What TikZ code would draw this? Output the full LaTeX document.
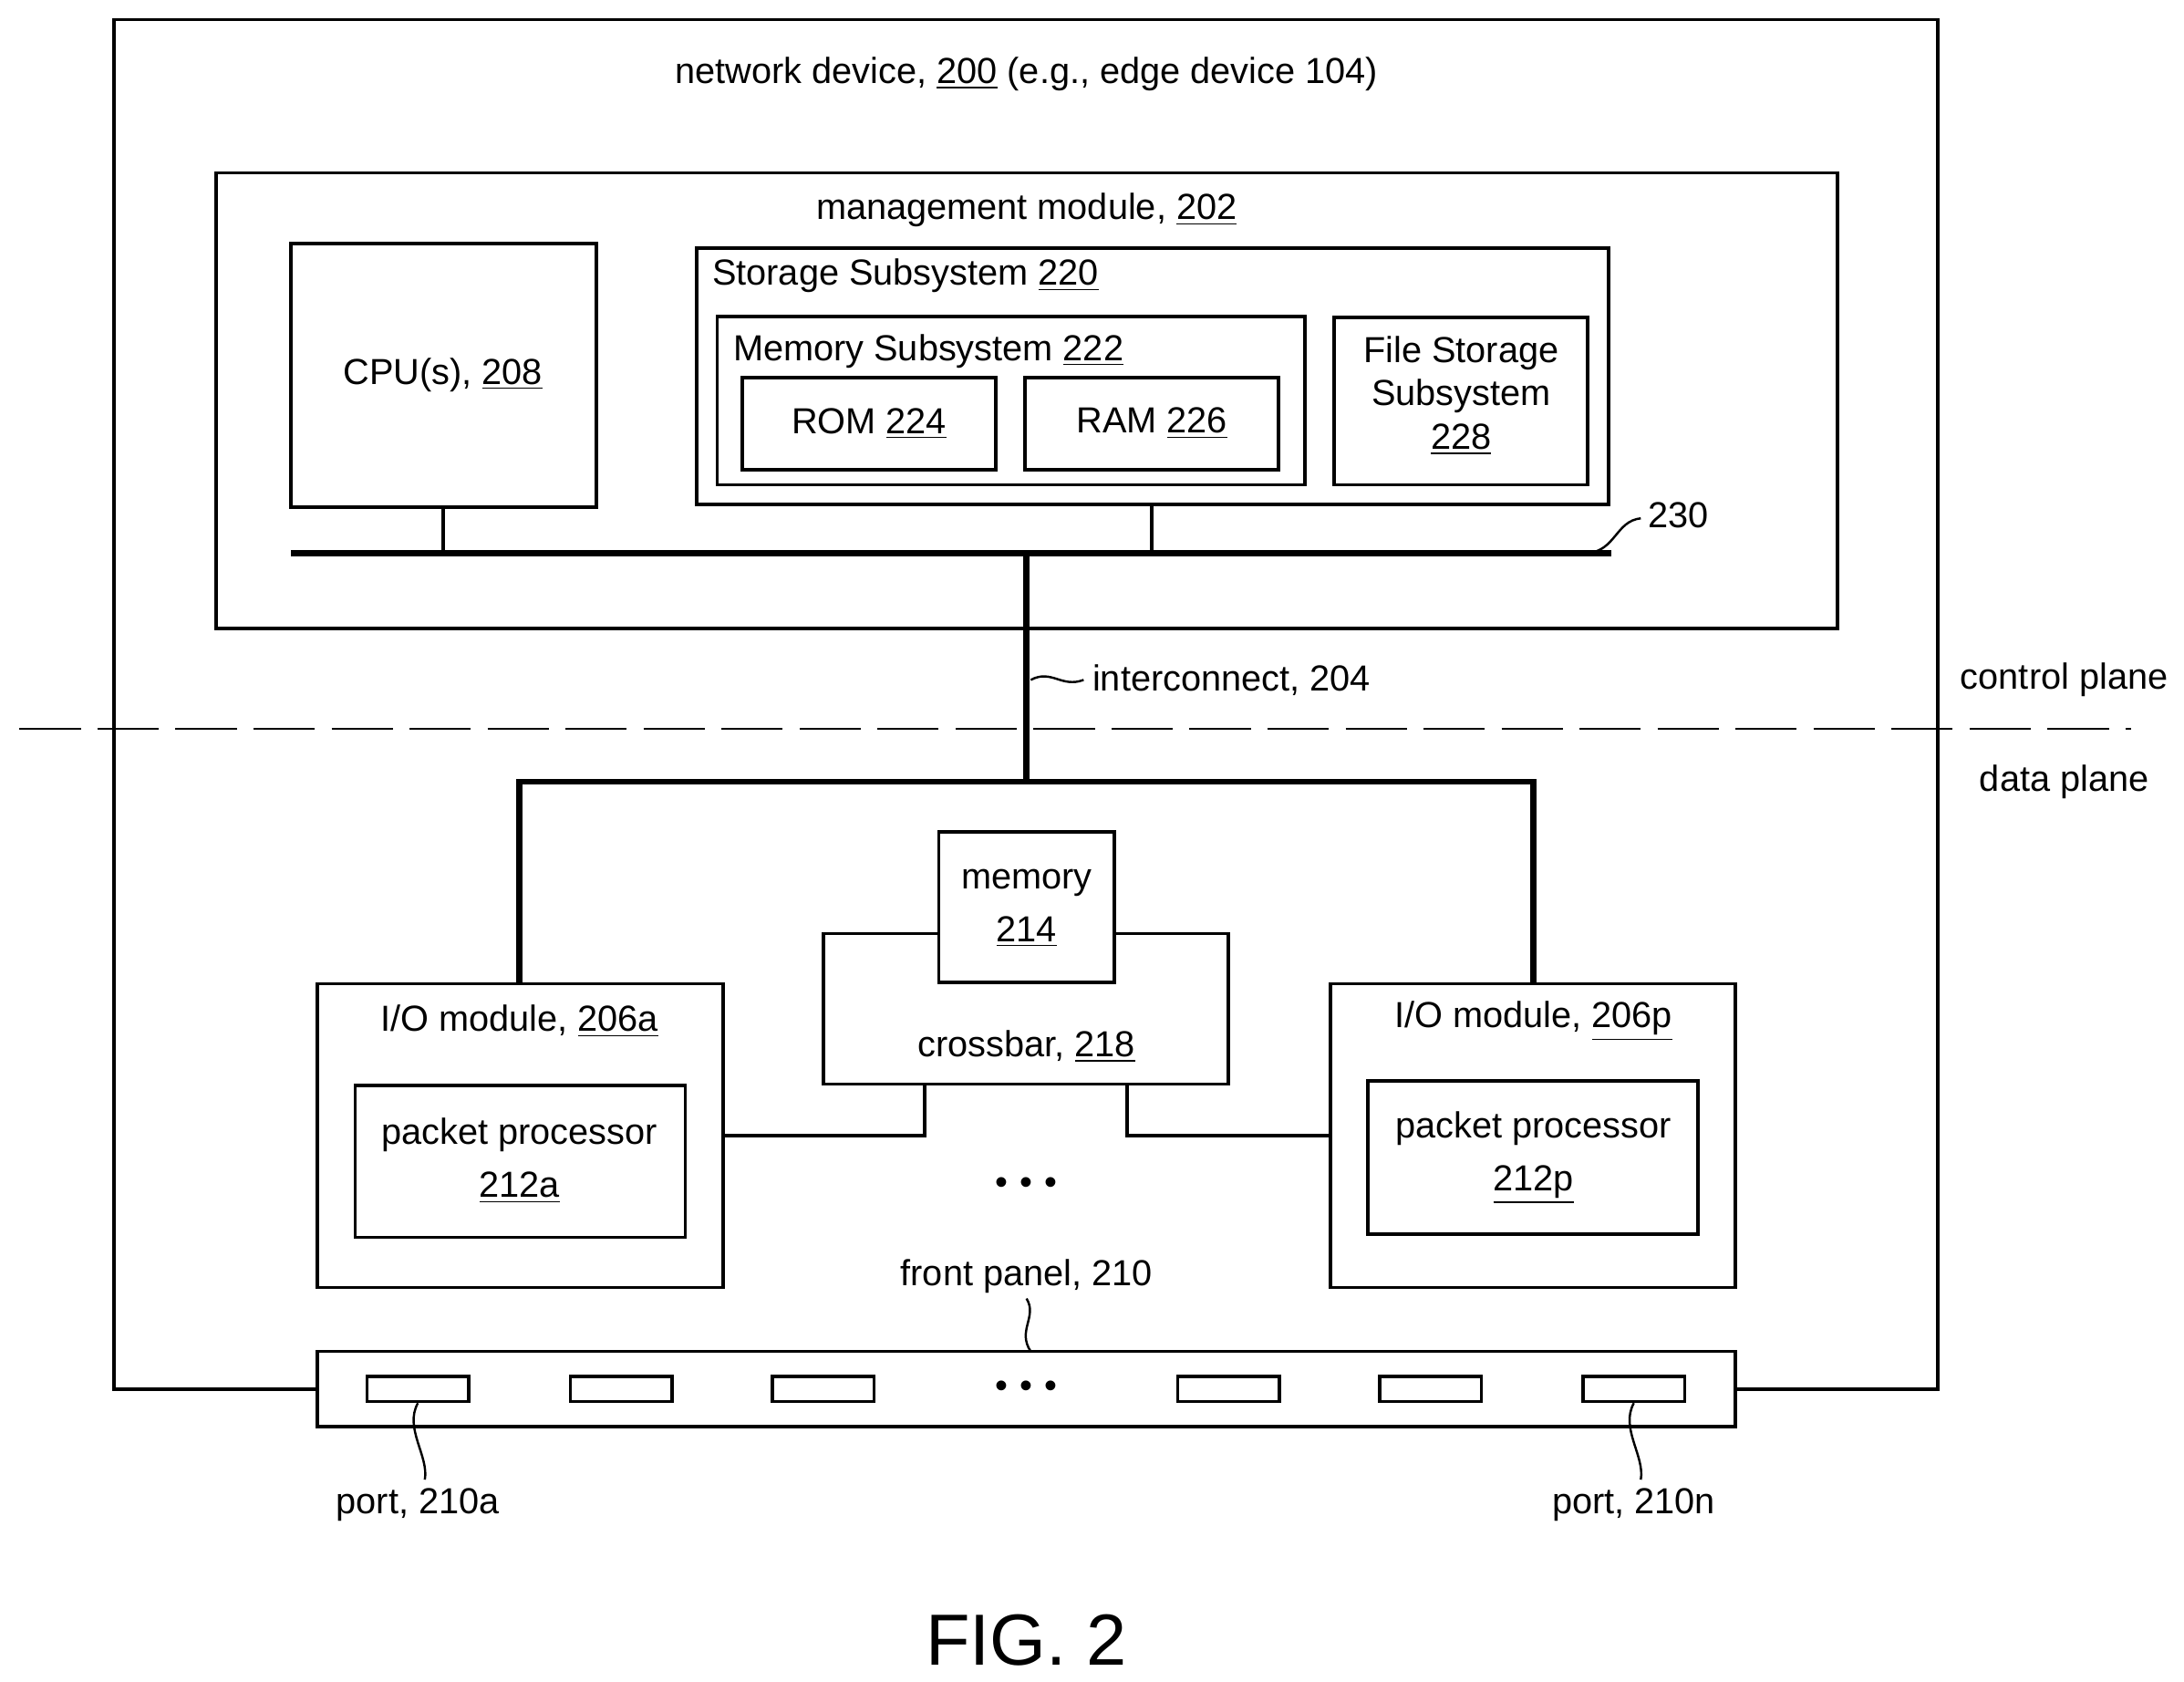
\documentclass[tikz,border=0pt]{standalone}
\usepackage{fontspec}
\setmainfont{Liberation Sans}
\begin{document}
\begin{tikzpicture}[x=0.5pt,y=-0.5pt,
  box/.style={draw,line width=1.2pt,fill=white},
  bus/.style={line width=2.2pt},
  lbl/.style={font=\fontsize{13}{16}\selectfont,inner sep=0pt,align=center},
  lead/.style={line width=0.8pt},
  port/.style={draw,line width=1.1pt,minimum width=36.5pt,minimum height=9pt,inner sep=0pt}]
\useasboundingbox (0,0) rectangle (1568,1207);
\coordinate (ob1) at (228,997); \coordinate (ob2) at (1246,997);
\draw[line width=1.2pt] (ob1) -- (82,997) -- (82,14) -- (1391,14) -- (1391,997) -- (ob2);
\node[lbl] (title) at (737,53) {network device, \underline{200} (e.g., edge device 104)};
\draw[box] (155,124) rectangle (1319,451);
\node[lbl] (mm) at (737,151) {management module, \underline{202}};
\draw[box] (209,175) rectangle (428,364);
\node[lbl] (cpu) at (318,269) {CPU(s), \underline{208}};
\draw[box] (500,178) rectangle (1155,362);
\node[lbl,anchor=west] (ss) at (511,198) {Storage Subsystem \underline{220}};
\draw[box] (515,227) rectangle (937,348);
\node[lbl,anchor=west] (ms) at (526,252) {Memory Subsystem \underline{222}};
\draw[box] (533,271) rectangle (715,337);
\node[lbl] (rom) at (624,304) {ROM \underline{224}};
\draw[box] (736,271) rectangle (918,337);
\node[lbl] (ram) at (827,304) {RAM \underline{226}};
\draw[box] (958,228) rectangle (1140,348);
\node[lbl,align=center,font=\fontsize{13}{15.5}\selectfont] (fs) at (1049,284) {File Storage\\Subsystem\\\underline{228}};
\coordinate (busL) at (209,397); \coordinate (busR) at (1157,397);
\draw[bus] (busL) -- (busR);
\draw[line width=1.4pt] (318,364) -- (318,397);
\draw[line width=1.4pt] (827,362) -- (827,397);
\node[lbl,anchor=west] (b230) at (1183,370) {230};
\draw[lead] (1140,397) .. controls (1160,395) and (1160,374) .. (1178,372);
\coordinate (ic1) at (737,397); \coordinate (ic2) at (737,561);
\draw[bus] (ic1) -- (ic2);
\node[lbl,anchor=west] (ic) at (784,488) {interconnect, 204};
\draw[lead] (740,488) .. controls (755,480) and (762,494) .. (778,488);
\draw[dash pattern=on 22pt off 6pt,line width=0.8pt] (14,523) -- (1530,523);
\node[lbl] (cp) at (1482,488) {control plane};
\node[lbl] (dp) at (1482,561) {data plane};
\draw[bus] (373,706) -- (373,561) -- (1101,561) -- (1101,706);
\draw[box] (228,706) rectangle (519,924);
\node[lbl] (ioa) at (373,733) {I/O module, \underline{206a}};
\draw[box] (255,779) rectangle (492,888);
\node[lbl,font=\fontsize{13}{19}\selectfont] (ppa) at (373,833) {packet processor\\\underline{212a}};
\draw[box] (955,706) rectangle (1246,924);
\node[lbl] (iop) at (1101,733) {I/O module, \underline{206p}};
\draw[box] (982,776) rectangle (1219,886);
\node[lbl,font=\fontsize{13}{19}\selectfont] (ppp) at (1101,831) {packet processor\\\underline{212p}};
\draw[box] (591,670) rectangle (882,778);
\draw[box] (674,597) rectangle (800,705);
\node[lbl,font=\fontsize{13}{19}\selectfont] (mem) at (737,652) {memory\\\underline{214}};
\node[lbl] (xb) at (737,751) {crossbar, \underline{218}};
\draw[line width=1.2pt] (519,815) -- (664,815) -- (664,778);
\draw[line width=1.2pt] (955,815) -- (809,815) -- (809,778);
\node[lbl] (dots1) at (737,851) {\textbullet\,\,\textbullet\,\,\textbullet};
\draw[box] (228,970) rectangle (1246,1024);
\node[lbl] (fp) at (737,916) {front panel, 210};
\draw[lead] (737,932) .. controls (745,945) and (730,955) .. (740,970);
\node[lbl] (dots2) at (737,997) {\textbullet\,\,\textbullet\,\,\textbullet};
\foreach \n/\x in {p1/300,p2/446,p3/591,p4/882,p5/1027,p6/1173}
  \node[port] (\n) at (\x,997) {};
\node[lbl] (pa) at (300,1080) {port, 210a};
\node[lbl] (pn) at (1173,1080) {port, 210n};
\draw[lead] (p1.south) .. controls (290,1025) and (308,1045) .. (305,1062);
\draw[lead] (p6.south) .. controls (1163,1025) and (1181,1045) .. (1178,1062);
\node[lbl,font=\fontsize{26}{30}\selectfont] (fig) at (737,1177) {FIG. 2};
\end{tikzpicture}
\end{document}
